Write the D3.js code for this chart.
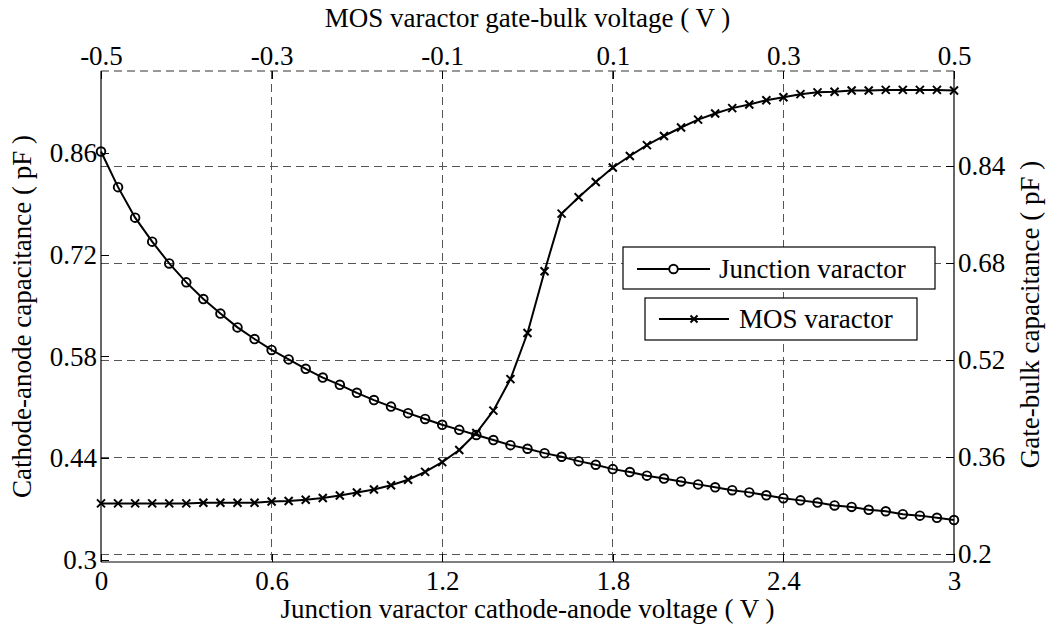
<!DOCTYPE html>
<html>
<head>
<meta charset="utf-8">
<script src="https://cdn.jsdelivr.net/npm/d3@7"></script>
<style>
  html, body { margin: 0; padding: 0; background: #fff; }
  svg text { font-family: "Liberation Serif", "Tinos", "Times New Roman", "DejaVu Serif", serif; }
</style>
</head>
<body>
<svg id="chart" width="1046" height="630"></svg>
<script>
// Junction varactor: cathode-anode voltage (V) and capacitance (pF)
const junctionVoltage = [
  0.00, 0.06, 0.12, 0.18, 0.24, 0.30, 0.36, 0.42, 0.48, 0.54,
  0.60, 0.66, 0.72, 0.78, 0.84, 0.90, 0.96, 1.02, 1.08, 1.14,
  1.20, 1.26, 1.32, 1.38, 1.44, 1.50, 1.56, 1.62, 1.68, 1.74,
  1.80, 1.86, 1.92, 1.98, 2.04, 2.10, 2.16, 2.22, 2.28, 2.34,
  2.40, 2.46, 2.52, 2.58, 2.64, 2.70, 2.76, 2.82, 2.88, 2.94, 3.00
];
const junctionCap = [
  0.862, 0.813, 0.771, 0.738, 0.708, 0.682, 0.659, 0.639, 0.620, 0.604,
  0.589, 0.576, 0.563, 0.551, 0.541, 0.530, 0.520, 0.511, 0.502, 0.494,
  0.486, 0.479, 0.472, 0.465, 0.458, 0.453, 0.447, 0.442, 0.436, 0.431,
  0.425, 0.421, 0.416, 0.412, 0.408, 0.404, 0.400, 0.396, 0.393, 0.389,
  0.385, 0.382, 0.379, 0.375, 0.373, 0.369, 0.367, 0.363, 0.361, 0.358, 0.355
];

// MOS varactor: gate-bulk voltage (V) and capacitance (pF)
const mosVoltage = [
  -0.50, -0.48, -0.46, -0.44, -0.42, -0.40, -0.38, -0.36, -0.34, -0.32,
  -0.30, -0.28, -0.26, -0.24, -0.22, -0.20, -0.18, -0.16, -0.14, -0.12,
  -0.10, -0.08, -0.06, -0.04, -0.02, 0.00, 0.02, 0.04, 0.06, 0.08,
  0.10, 0.12, 0.14, 0.16, 0.18, 0.20, 0.22, 0.24, 0.26, 0.28,
  0.30, 0.32, 0.34, 0.36, 0.38, 0.40, 0.42, 0.44, 0.46, 0.48, 0.50
];
const mosCap = [
  0.284, 0.284, 0.284, 0.284, 0.284, 0.284, 0.285, 0.285, 0.285, 0.285,
  0.287, 0.288, 0.290, 0.293, 0.297, 0.302, 0.307, 0.314, 0.323, 0.336,
  0.352, 0.372, 0.400, 0.437, 0.489, 0.565, 0.667, 0.762, 0.789, 0.814,
  0.838, 0.857, 0.875, 0.890, 0.904, 0.917, 0.927, 0.936, 0.942, 0.949,
  0.954, 0.959, 0.962, 0.963, 0.965, 0.965, 0.966, 0.966, 0.966, 0.966, 0.965
];

// Tick values for the four axes
const bottomTicks = [0, 0.6, 1.2, 1.8, 2.4, 3];
const topTicks = [-0.5, -0.3, -0.1, 0.1, 0.3, 0.5];
const leftTicks = [0.3, 0.44, 0.58, 0.72, 0.86];
const rightTicks = [0.2, 0.36, 0.52, 0.68, 0.84];

// Text
const titleTop = "MOS varactor gate-bulk voltage ( V )";
const titleBottom = "Junction varactor cathode-anode voltage ( V )";
const titleLeft = "Cathode-anode capacitance ( pF )";
const titleRight = "Gate-bulk capacitance ( pF )";
const legendLabels = ["Junction varactor", "MOS varactor"];

const svg = d3.select("#chart");
const W = 1046, H = 630;
const plot = { left: 101, top: 71, right: 954, bottom: 562 };
const serif = "'Liberation Serif', 'Tinos', 'Times New Roman', 'DejaVu Serif', serif";
const fontSize = 27;

svg.append("rect").attr("width", W).attr("height", H).attr("fill", "#fff");

const xBottom = d3.scaleLinear().domain([0, 3]).range([plot.left, plot.right]);
const xTop = d3.scaleLinear().domain([-0.5, 0.5]).range([plot.left, plot.right]);
const yLeft = d3.scaleLinear().domain([0.2972, 0.9728]).range([plot.bottom, plot.top]);
const yRight = d3.scaleLinear().domain([0.1873, 0.9972]).range([plot.bottom, plot.top]);

const fmt = d => String(d);
const dash = "8,5";

// Grid: vertical lines from the voltage ticks, horizontal lines from the right axis
const grid = svg.append("g").attr("stroke", "#555").attr("stroke-width", 1)
  .attr("stroke-dasharray", dash).attr("shape-rendering", "crispEdges");
grid.selectAll("line.v").data(bottomTicks.slice(1, -1)).join("line")
  .attr("x1", d => xBottom(d)).attr("x2", d => xBottom(d))
  .attr("y1", plot.top).attr("y2", plot.bottom);
grid.selectAll("line.h").data(rightTicks).join("line")
  .attr("x1", plot.left).attr("x2", plot.right)
  .attr("y1", d => yRight(d)).attr("y2", d => yRight(d));

// Axes with inward ticks
function styleAxis(g) {
  g.attr("font-family", serif).attr("font-size", fontSize);
  g.select(".domain").remove();
  g.selectAll(".tick line").attr("stroke", "#000").attr("shape-rendering", "crispEdges");
  g.selectAll(".tick text").attr("fill", "#000");
}
svg.append("g").attr("transform", `translate(0,${plot.bottom})`)
  .call(d3.axisBottom(xBottom).tickValues(bottomTicks).tickFormat(fmt).tickSizeInner(-8).tickSizeOuter(0).tickPadding(9))
  .call(styleAxis);
svg.append("g").attr("transform", `translate(0,${plot.top})`)
  .call(d3.axisTop(xTop).tickValues(topTicks).tickFormat(fmt).tickSizeInner(-8).tickSizeOuter(0).tickPadding(6))
  .call(styleAxis);
svg.append("g").attr("transform", `translate(${plot.left},0)`)
  .call(d3.axisLeft(yLeft).tickValues(leftTicks).tickFormat(fmt).tickSizeInner(-8).tickSizeOuter(0).tickPadding(4))
  .call(styleAxis);
svg.append("g").attr("transform", `translate(${plot.right},0)`)
  .call(d3.axisRight(yRight).tickValues(rightTicks).tickFormat(fmt).tickSizeInner(-8).tickSizeOuter(0).tickPadding(4))
  .call(styleAxis);

// Frame: solid left/bottom/right, dashed top
const frame = svg.append("g").attr("stroke", "#000").attr("stroke-width", 1.2).attr("fill", "none");
frame.append("line").attr("x1", plot.left).attr("x2", plot.left).attr("y1", plot.top).attr("y2", plot.bottom);
frame.append("line").attr("x1", plot.right).attr("x2", plot.right).attr("y1", plot.top).attr("y2", plot.bottom);
frame.append("line").attr("x1", plot.left).attr("x2", plot.right).attr("y1", plot.bottom).attr("y2", plot.bottom);
frame.append("line").attr("x1", plot.left).attr("x2", plot.right).attr("y1", plot.top).attr("y2", plot.top)
  .attr("stroke", "#333").attr("stroke-dasharray", dash);

// Series
const junction = junctionVoltage.map((v, i) => ({ x: xBottom(v), y: yLeft(junctionCap[i]) }));
const mos = mosVoltage.map((v, i) => ({ x: xTop(v), y: yRight(mosCap[i]) }));
const line = d3.line().x(d => d.x).y(d => d.y);

function crossPath(s) {
  return `M${-s},${-s}L${s},${s}M${-s},${s}L${s},${-s}`;
}

const series = svg.append("g").attr("fill", "none").attr("stroke", "#000");
series.append("path").datum(mos).attr("d", line).attr("stroke-width", 2);
series.append("g").selectAll("path").data(mos).join("path")
  .attr("transform", d => `translate(${d.x},${d.y})`)
  .attr("d", crossPath(4)).attr("stroke-width", 2);
series.append("path").datum(junction).attr("d", line).attr("stroke-width", 2);
series.append("g").selectAll("circle").data(junction).join("circle")
  .attr("cx", d => d.x).attr("cy", d => d.y).attr("r", 4.3)
  .attr("fill", "none").attr("stroke-width", 1.9);

// Axis titles
const titles = svg.append("g").attr("font-family", serif).attr("font-size", fontSize).attr("fill", "#000");
titles.append("text").attr("x", (plot.left + plot.right) / 2).attr("y", 27)
  .attr("text-anchor", "middle").text(titleTop);
titles.append("text").attr("x", (plot.left + plot.right) / 2).attr("y", 618)
  .attr("text-anchor", "middle").text(titleBottom);
titles.append("text").attr("transform", `translate(31,${(plot.top + plot.bottom) / 2}) rotate(-90)`)
  .attr("text-anchor", "middle").text(titleLeft);
titles.append("text").attr("transform", `translate(1039,${(plot.top + plot.bottom) / 2 - 2}) rotate(-90)`)
  .attr("text-anchor", "middle").text(titleRight);

// Legends: two separate boxes
const legends = [
  { box: [623, 247, 312, 42], lineX: [637, 710], y: 269, textX: 719, marker: "circle" },
  { box: [645, 298, 272, 42], lineX: [659, 729], y: 319, textX: 739, marker: "cross" }
];
legends.forEach((lg, i) => {
  const g = svg.append("g");
  g.append("rect").attr("x", lg.box[0]).attr("y", lg.box[1]).attr("width", lg.box[2]).attr("height", lg.box[3])
    .attr("fill", "#fff").attr("stroke", "#000").attr("stroke-width", 1.2);
  g.append("line").attr("x1", lg.lineX[0]).attr("x2", lg.lineX[1]).attr("y1", lg.y).attr("y2", lg.y)
    .attr("stroke", "#000").attr("stroke-width", 2);
  const mx = (lg.lineX[0] + lg.lineX[1]) / 2;
  if (lg.marker === "circle") {
    g.append("circle").attr("cx", mx).attr("cy", lg.y).attr("r", 4.3)
      .attr("fill", "#fff").attr("stroke", "#000").attr("stroke-width", 1.9);
  } else {
    g.append("path").attr("transform", `translate(${mx},${lg.y})`).attr("d", crossPath(3.5))
      .attr("stroke", "#000").attr("stroke-width", 2).attr("fill", "none");
  }
  g.append("text").attr("x", lg.textX).attr("y", lg.y).attr("dy", "0.35em")
    .attr("font-family", serif).attr("font-size", fontSize).text(legendLabels[i]);
});
</script>
</body>
</html>
